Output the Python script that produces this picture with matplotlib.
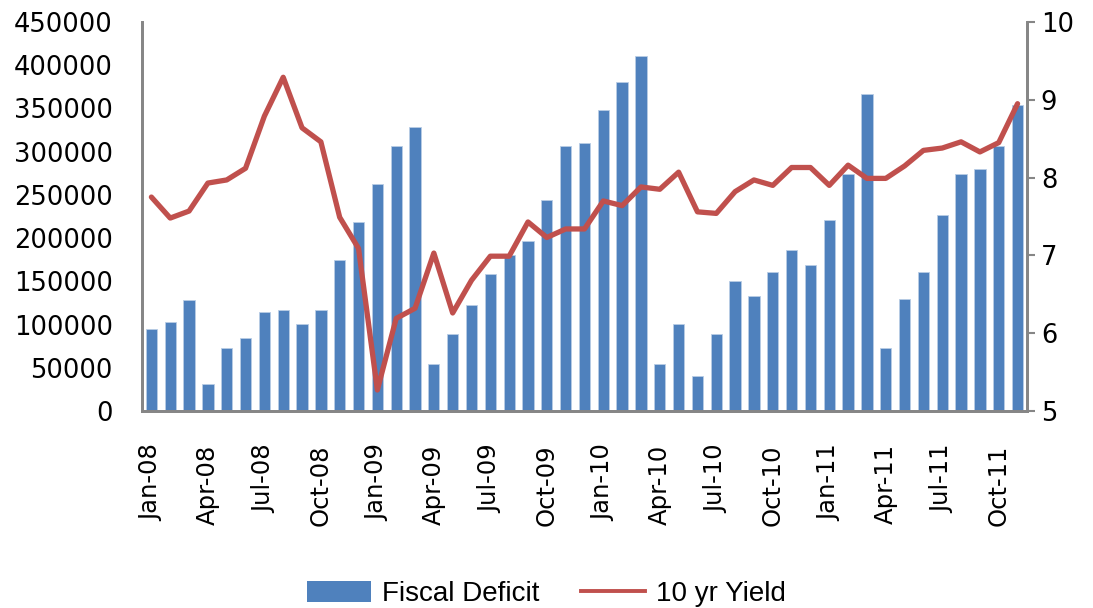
import matplotlib.pyplot as plt
from matplotlib.patches import Patch
from matplotlib.lines import Line2D

months = ['Jan-08', 'Feb-08', 'Mar-08', 'Apr-08', 'May-08', 'Jun-08', 'Jul-08', 'Aug-08',
          'Sep-08', 'Oct-08', 'Nov-08', 'Dec-08', 'Jan-09', 'Feb-09', 'Mar-09', 'Apr-09',
          'May-09', 'Jun-09', 'Jul-09', 'Aug-09', 'Sep-09', 'Oct-09', 'Nov-09', 'Dec-09',
          'Jan-10', 'Feb-10', 'Mar-10', 'Apr-10', 'May-10', 'Jun-10', 'Jul-10', 'Aug-10',
          'Sep-10', 'Oct-10', 'Nov-10', 'Dec-10', 'Jan-11', 'Feb-11', 'Mar-11', 'Apr-11',
          'May-11', 'Jun-11', 'Jul-11', 'Aug-11', 'Sep-11', 'Oct-11', 'Nov-11']

# fiscal deficit (left axis)
deficit = [95000, 103000, 128000, 31000, 73000, 84000, 114000, 117000,
           101000, 117000, 175000, 219000, 263000, 307000, 329000, 54000,
           89000, 123000, 158000, 181000, 197000, 244000, 307000, 310000,
           348000, 381000, 411000, 54000, 101000, 40000, 89000, 150000,
           133000, 161000, 186000, 169000, 221000, 274000, 367000, 73000,
           130000, 161000, 227000, 274000, 280000, 307000, 354000]

# 10 yr yield (right axis)
yld = [7.75, 7.48, 7.57, 7.93, 7.97, 8.12, 8.79, 9.29,
       8.64, 8.46, 7.49, 7.09, 5.27, 6.19, 6.32, 7.03,
       6.26, 6.68, 6.99, 6.99, 7.43, 7.23, 7.34, 7.34,
       7.70, 7.64, 7.88, 7.85, 8.07, 7.56, 7.54, 7.82,
       7.97, 7.90, 8.13, 8.13, 7.90, 8.16, 7.99, 7.99,
       8.15, 8.35, 8.38, 8.46, 8.33, 8.45, 8.95]

bar_color = '#4F81BD'
line_color = '#C0504D'
spine_color = '#868686'

fig = plt.figure(figsize=(10.93, 6.08), dpi=100)
ax = fig.add_axes([0.1299, 0.324, 0.8097, 0.6398])
ax2 = ax.twinx()

x = range(len(months))
ax.bar(x, deficit, width=0.6, color=bar_color, edgecolor='#B9CDE5', linewidth=0.6, zorder=2)
ax2.plot(x, yld, color=line_color, linewidth=3.8, solid_joinstyle='round', solid_capstyle='round')

ax.set_xlim(-0.5, len(months) - 0.5)
ax.set_ylim(0, 450000)
ax.set_yticks(range(0, 450001, 50000))
ax2.set_ylim(5, 10)
ax2.set_yticks([5, 6, 7, 8, 9, 10])

ax.set_xticks(list(x)[::3])
ax.set_xticklabels(months[::3], rotation=90, fontsize=17.5)
ax.tick_params(axis='x', length=0, pad=24)
ax.tick_params(axis='y', labelsize=18.5, length=0, pad=21)
ax2.tick_params(axis='y', labelsize=18.5, length=6, width=1.5, color=spine_color, pad=4)

for a in (ax, ax2):
    a.spines['top'].set_visible(False)
    for s in ('left', 'right', 'bottom'):
        a.spines[s].set_color(spine_color)
        a.spines[s].set_linewidth(2)

handles = [Patch(facecolor=bar_color, label='Fiscal Deficit'),
           Line2D([0], [0], color=line_color, linewidth=2.8, label='10 yr Yield')]
fig.legend(handles=handles, loc='center', bbox_to_anchor=(0.5, 0.023), ncol=2, frameon=False,
           prop={'family': ['Liberation Sans', 'DejaVu Sans'], 'size': 20},
           handlelength=2.3, handleheight=0.75, columnspacing=1.5, handletextpad=0.4)

fig.savefig('out.png', dpi=100)
